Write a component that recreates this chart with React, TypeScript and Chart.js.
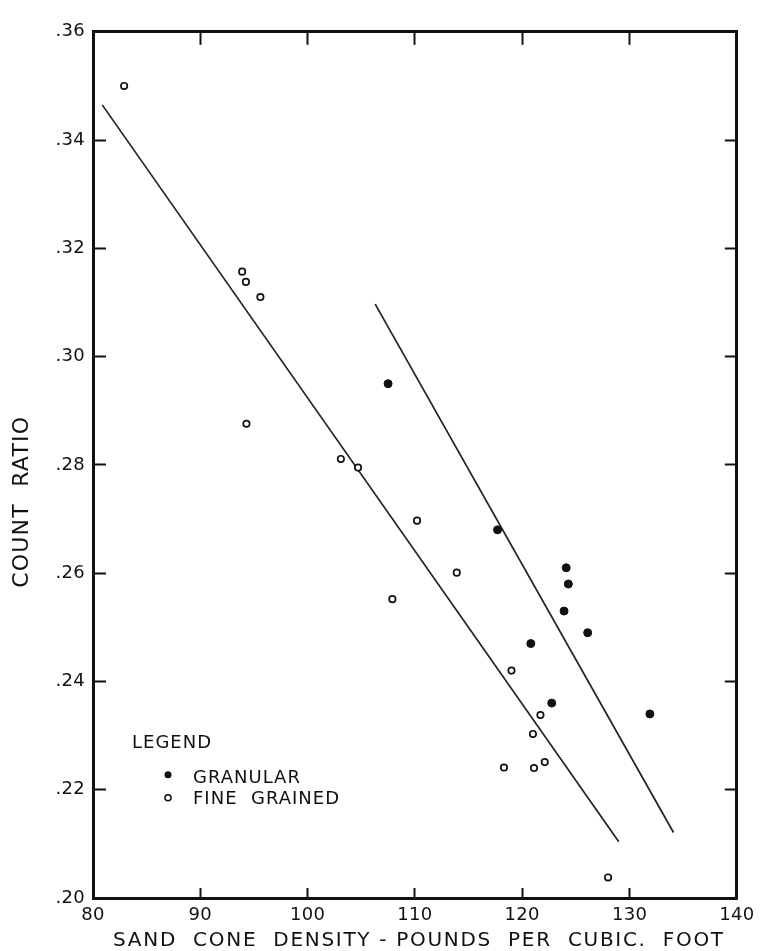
import React, { useEffect, useRef } from "react";
import { Chart, registerables } from "chart.js";

Chart.register(...registerables);

// ---- data ----
const granularX = [107.5, 117.7, 124.1, 124.3, 123.9, 126.1, 120.8, 122.75, 131.9];
const granularY = [0.295, 0.268, 0.261, 0.258, 0.253, 0.249, 0.247, 0.236, 0.234];

const fineX = [82.9, 93.9, 94.25, 95.6, 94.3, 103.1, 104.7, 110.2, 113.9, 107.9, 119.0, 121.7, 121.0, 118.3, 121.1, 122.1, 128.0];
const fineY = [0.35, 0.3157, 0.3138, 0.311, 0.2876, 0.2811, 0.2795, 0.2697, 0.2601, 0.2552, 0.242, 0.2338, 0.2303, 0.2241, 0.224, 0.2251, 0.2038];

const fineLineX = [80.86, 129.0];
const fineLineY = [0.3465, 0.2104];
const granularLineX = [106.3, 134.1];
const granularLineY = [0.3097, 0.2121];

const xMin = 80;
const xMax = 140;
const xStep = 10;
const yMin = 0.2;
const yMax = 0.36;
const yStep = 0.02;

const xTitle = "SAND  CONE  DENSITY - POUNDS  PER  CUBIC.  FOOT";
const yTitle = "COUNT  RATIO";
const legendTitle = "LEGEND";
const legendLabels = ["GRANULAR", "FINE  GRAINED"];

const INK = "#111111";
const FONT = "'DejaVu Sans', sans-serif";

const toPts = (xs: number[], ys: number[]) => xs.map((x, i) => ({ x, y: ys[i] }));

// letter spacing: a little on tick labels, more on the axis titles
const titleSpacing: Record<string, string> = { x: "1.7px", y: "1.2px" };
const spacingPlugin = {
  id: "spacing",
  beforeDraw(chart: any) {
    chart.ctx.letterSpacing = "0.3px";
    Object.keys(chart.scales).forEach((id) => {
      const s = chart.scales[id];
      if (s.__patched) return;
      const orig = s.drawTitle;
      s.drawTitle = function (...args: any[]) {
        const prev = this.ctx.letterSpacing;
        this.ctx.letterSpacing = titleSpacing[id] || "0px";
        orig.apply(this, args);
        this.ctx.letterSpacing = prev;
      };
      s.__patched = true;
    });
  },
  beforeDatasetsDraw(chart: any) {
    chart.ctx.letterSpacing = "0px";
  },
};

const legendPlugin = {
  id: "paperLegend",
  afterDraw(chart: any) {
    const ctx = chart.ctx;
    const a = chart.chartArea;
    ctx.save();
    ctx.letterSpacing = "1px";
    ctx.fillStyle = INK;
    ctx.font = `18px ${FONT}`;
    ctx.textBaseline = "middle";
    ctx.textAlign = "left";
    ctx.fillText(legendTitle, a.left + 39, a.top + 712);
    ctx.fillText(legendLabels[0], a.left + 100, a.top + 747);
    ctx.fillText(legendLabels[1], a.left + 100, a.top + 768);
    // markers
    ctx.beginPath();
    ctx.arc(a.left + 75, a.top + 743, 3.5, 0, Math.PI * 2);
    ctx.fillStyle = INK;
    ctx.fill();
    ctx.beginPath();
    ctx.arc(a.left + 75, a.top + 766, 3, 0, Math.PI * 2);
    ctx.lineWidth = 1.5;
    ctx.strokeStyle = INK;
    ctx.stroke();
    ctx.restore();
  },
};

export default function App() {
  const ref = useRef<HTMLCanvasElement | null>(null);

  useEffect(() => {
    if (!ref.current) return;
    const tickFont = { family: FONT, size: 18 };
    const border = { display: true, width: 3, color: INK };
    const chart = new Chart(ref.current, {
      type: "scatter",
      data: {
        datasets: [
          {
            type: "line",
            label: "fine line",
            data: toPts(fineLineX, fineLineY),
            borderColor: "#222222",
            borderWidth: 1.7,
            pointRadius: 0,
            fill: false,
            order: 3,
          } as any,
          {
            type: "line",
            label: "granular line",
            data: toPts(granularLineX, granularLineY),
            borderColor: "#222222",
            borderWidth: 1.7,
            pointRadius: 0,
            fill: false,
            order: 3,
          } as any,
          {
            label: "GRANULAR",
            data: toPts(granularX, granularY),
            pointStyle: "circle",
            pointRadius: 4,
            backgroundColor: INK,
            borderColor: INK,
            borderWidth: 1,
            order: 1,
          },
          {
            label: "FINE GRAINED",
            data: toPts(fineX, fineY),
            pointStyle: "circle",
            pointRadius: 3.2,
            backgroundColor: "#ffffff",
            borderColor: INK,
            borderWidth: 1.7,
            order: 2,
          },
        ],
      },
      options: {
        animation: false,
        responsive: false,
        layout: { padding: 0 },
        plugins: {
          legend: { display: false },
          tooltip: { enabled: false },
        },
        scales: {
          x: {
            type: "linear",
            position: "bottom",
            min: xMin,
            max: xMax,
            afterFit: (s: any) => {
              s.height = 53;
            },
            ticks: { stepSize: xStep, font: tickFont, color: INK, padding: 17, maxRotation: 0 },
            grid: { drawOnChartArea: false, tickLength: -10, tickWidth: 2, tickColor: INK },
            border,
            title: {
              display: true,
              text: " " + xTitle,
              color: INK,
              font: { family: FONT, size: 20, lineHeight: 1 },
              padding: 0,
            },
          },
          x2: {
            type: "linear",
            position: "top",
            min: xMin,
            max: xMax,
            afterFit: (s: any) => {
              s.height = 21;
            },
            ticks: { stepSize: xStep, display: false },
            grid: { drawOnChartArea: false, tickLength: -13, tickWidth: 2, tickColor: INK },
            border,
          },
          y: {
            type: "linear",
            position: "left",
            min: yMin,
            max: yMax,
            afterFit: (s: any) => {
              s.width = 93;
            },
            ticks: {
              stepSize: yStep,
              font: tickFont,
              color: INK,
              padding: 21,
              callback: (v: any) => Number(v).toFixed(2).replace(/^0/, ""),
            },
            grid: { drawOnChartArea: false, tickLength: -13, tickWidth: 2, tickColor: INK },
            border,
            title: {
              display: true,
              text: yTitle + "         ",
              color: INK,
              font: { family: FONT, size: 22, lineHeight: 1 },
              padding: { top: 11, bottom: 0 },
            },
          },
          y2: {
            type: "linear",
            position: "right",
            min: yMin,
            max: yMax,
            afterFit: (s: any) => {
              s.width = 22;
            },
            ticks: { stepSize: yStep, display: false },
            grid: { drawOnChartArea: false, tickLength: -12, tickWidth: 2, tickColor: INK },
            border,
          },
        },
      } as any,
      plugins: [spacingPlugin, legendPlugin],
    });
    return () => chart.destroy();
  }, []);

  return (
    <div style={{ position: "absolute", left: 0, top: 0, width: 771, height: 951, background: "#fff" }}>
      <canvas ref={ref} width={771} height={951} style={{ width: 771, height: 951, display: "block" }} />
    </div>
  );
}
